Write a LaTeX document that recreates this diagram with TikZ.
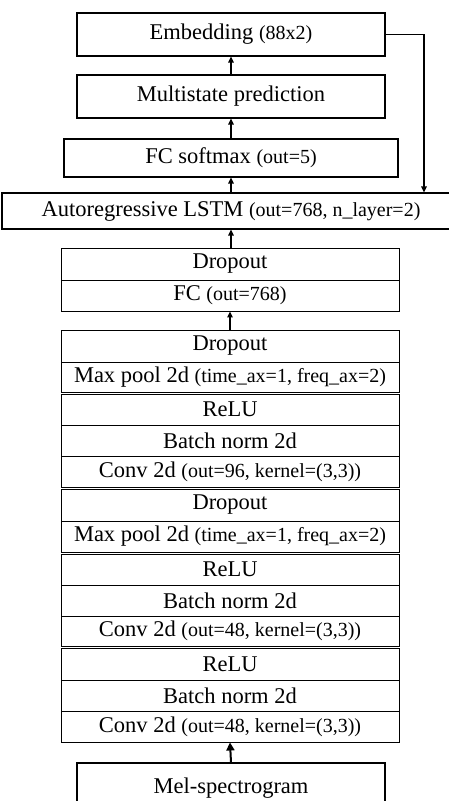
\documentclass[tikz,border=0pt]{standalone}
\usepackage{fontspec}
\setmainfont{Liberation Serif}
\usetikzlibrary{arrows.meta}
\newcommand{\mainsz}{\fontsize{22.5}{26}\selectfont}
\newcommand{\argtxt}[1]{{\fontsize{20}{23}\selectfont #1}}
\tikzset{
  layer/.style={draw=black, line width=0.9pt, inner sep=0pt, font=\mainsz,
    minimum width=338pt, minimum height=31pt},
  topbox/.style={layer, line width=1.1pt, minimum width=308pt, minimum height=43pt},
  flow/.style={line width=1.2pt, -{Triangle[length=6pt,width=5.5pt]}},
  bigflow/.style={line width=2pt, -{Triangle[length=8pt,width=8pt]}}
}
\begin{document}
\begin{tikzpicture}[x=1pt,y=-1pt]
\useasboundingbox (0,0) rectangle (449,801);
\begin{scope}
\clip (0,0) rectangle (449,801);
% output side
\node[topbox] (emb) at (231,34.5) {Embedding \argtxt{(88x2)}};
\node[topbox] (multi) at (231,96.5) {Multistate prediction};
\node[layer, line width=1.1pt, minimum width=334pt, minimum height=38pt] (fcs) at (231,158) {FC softmax \argtxt{(out=5)}};
\node[layer, line width=1.1pt, minimum width=458pt, minimum height=36pt] (lstm) at (231,211) {Autoregressive LSTM \argtxt{(out=768, n\_layer=2)}};
% dense block
\node[layer, minimum height=32pt] (drop1) at (230,264) {Dropout};
\node[layer] (fc1) at (230,295.5) {FC \argtxt{(out=768)}};
% convolutional stack
\node[layer, minimum height=32pt] (drop2) at (230,346) {Dropout};
\node[layer, minimum height=30pt] (pool2) at (230,377) {Max pool 2d \argtxt{(time\_ax=1, freq\_ax=2)}};
\node[layer] (relu3) at (230,409.5) {ReLU};
\node[layer] (bn3) at (230,440.5) {Batch norm 2d};
\node[layer] (conv3) at (230,471.5) {Conv 2d \argtxt{(out=96, kernel=(3,3))}};
\node[layer, minimum height=32pt] (drop4) at (230,505) {Dropout};
\node[layer] (pool4) at (230,536.5) {Max pool 2d \argtxt{(time\_ax=1, freq\_ax=2)}};
\node[layer] (relu5) at (230,569.5) {ReLU};
\node[layer] (bn5) at (230,600.5) {Batch norm 2d};
\node[layer, minimum height=30pt] (conv5) at (230,631) {Conv 2d \argtxt{(out=48, kernel=(3,3))}};
\node[layer, minimum height=32pt] (relu6) at (230,664) {ReLU};
\node[layer] (bn6) at (230,695.5) {Batch norm 2d};
\node[layer] (conv6) at (230,726.5) {Conv 2d \argtxt{(out=48, kernel=(3,3))}};
% input
\node[topbox, minimum height=50pt] (mel) at (231,788) {Mel-spectrogram};
% connectors
\draw[flow] (multi.north) -- (emb.south);
\draw[flow] (fcs.north) -- (multi.south);
\draw[flow] (lstm.north -| fcs.north) -- (fcs.south);
\draw[flow] (drop1.north -| lstm.south) -- (lstm.south);
\draw[flow] (drop2.north) -- (fc1.south);
\draw[bigflow] (mel.north) -- (conv6.south);
\coordinate (fb) at (424,0);
\draw[flow] (emb.east) -| (fb |- lstm.north);
\end{scope}
\end{tikzpicture}
\end{document}
